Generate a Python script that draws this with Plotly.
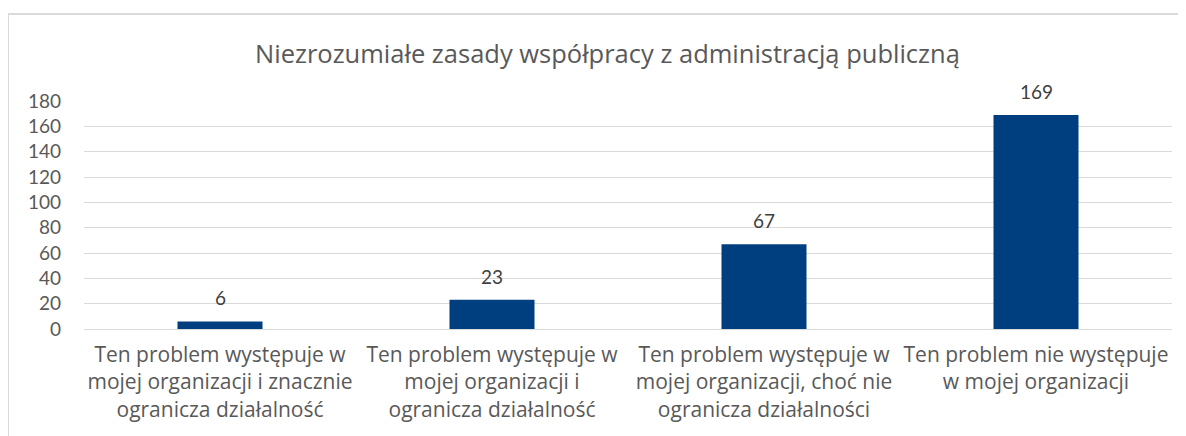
import plotly.graph_objects as go

categories = [
    "Ten problem występuje w<br>mojej organizacji i znacznie<br>ogranicza działalność",
    "Ten problem występuje w<br>mojej organizacji i<br>ogranicza działalność",
    "Ten problem występuje w<br>mojej organizacji, choć nie<br>ogranicza działalności",
    "Ten problem nie występuje<br>w mojej organizacji",
]
values = [6, 23, 67, 169]
y_ticks = [0, 20, 40, 60, 80, 100, 120, 140, 160, 180]
title_text = "Niezrozumiałe zasady współpracy z administracją publiczną"

FONT = "Lato"
TFONT = "Open Sans"
GRAY = "#595959"

fig = go.Figure()
fig.add_trace(go.Bar(
    x=categories, y=values,
    marker=dict(color="#003f7f", line=dict(width=0)),
    width=0.3125,
    hoverinfo="skip",
))

for c, v in zip(categories, values):
    fig.add_annotation(x=c, y=v, text=str(v), showarrow=False,
                       yanchor="bottom", yshift=10,
                       font=dict(family=FONT, size=19, color="#404040"))

fig.add_annotation(x=0.4816, y=1.0, xref="paper", yref="paper",
                   yshift=48, text=title_text, showarrow=False,
                   xanchor="center", yanchor="middle",
                   font=dict(family=TFONT, size=25.5, color=GRAY))

fig.add_shape(type="rect", xref="paper", yref="paper",
              x0=-0.0699, x1=1.05, y0=-0.6, y1=1.3816,
              line=dict(color="#d9d9d9", width=2), fillcolor="rgba(0,0,0,0)",
              layer="below")

fig.update_layout(
    width=1178, height=428,
    margin=dict(l=76, r=14, t=93, b=107),
    paper_bgcolor="white", plot_bgcolor="white",
    showlegend=False,
    bargap=0.6875,
    font=dict(family=FONT, color=GRAY),
)
fig.update_xaxes(
    showgrid=False, showline=False, ticks="",
    tickfont=dict(family=TFONT, size=21, color=GRAY),
    tickangle=0, automargin=False, ticklabelstandoff=11,
)
fig.update_yaxes(
    range=[0, 180], tickvals=y_ticks,
    showgrid=True, gridcolor="#d9d9d9", gridwidth=1,
    zeroline=True, zerolinecolor="#d9d9d9", zerolinewidth=1,
    showline=False, ticks="",
    tickfont=dict(family=FONT, size=19, color=GRAY),
    automargin=False, ticklabelstandoff=22,
)

fig.write_html("out.html")
